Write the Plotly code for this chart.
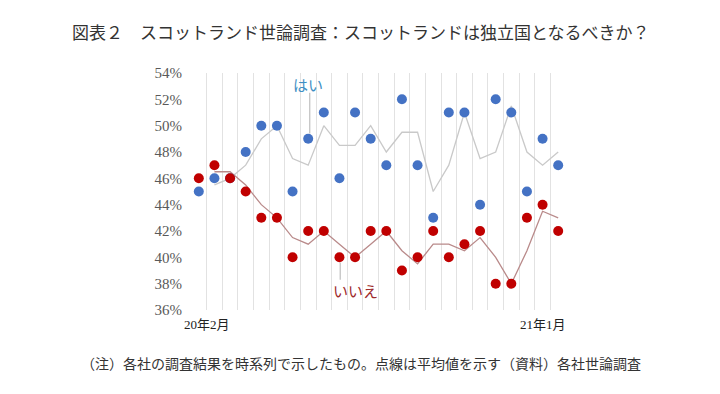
import plotly.graph_objects as go

# survey index (chronological), Feb 2020 .. Jan 2021
idx = list(range(24))
yes_vals = [45, 46, 46, 48, 50, 50, 45, 49, 51, 46, 51, 49, 47, 52, 47, 43, 51, 51, 44, 52, 51, 45, 49, 47]
no_vals = [46, 47, 46, 45, 43, 43, 40, 42, 42, 40, 40, 42, 42, 39, 40, 42, 40, 41, 42, 38, 38, 43, 44, 42]
# average lines (start at second survey)
avg_idx = list(range(1, 24))
yes_avg = [45.5, 46, 47, 49, 50, 47.5, 47, 50, 48.5, 48.5, 50, 48, 49.5, 49.5, 45, 47, 51, 47.5, 48, 51.5, 48, 47, 48]
no_avg = [46.5, 46.5, 45.5, 44, 43, 41.5, 41, 42, 41, 40, 41, 42, 40.5, 39.5, 41, 41, 40.5, 41.5, 40, 38, 40.5, 43.5, 43]
y_ticks = [36, 38, 40, 42, 44, 46, 48, 50, 52, 54]
y_ticktext = [f"{v}%" for v in y_ticks]
x_label_pos = [0, 22]
x_label_text = ["20年2月", "21年1月"]

SERIF = "Liberation Serif, DejaVu Serif, Noto Sans CJK JP"
CJK = "Noto Sans CJK JP"

fig = go.Figure()
fig.add_trace(go.Scatter(x=avg_idx, y=yes_avg, mode="lines",
                         line=dict(color="#C9C9C9", width=1.3), hoverinfo="skip"))
fig.add_trace(go.Scatter(x=avg_idx, y=no_avg, mode="lines",
                         line=dict(color="#B98A8A", width=1.3), hoverinfo="skip"))
fig.add_trace(go.Scatter(x=idx, y=yes_vals, mode="markers",
                         marker=dict(color="#4472C4", size=10)))
fig.add_trace(go.Scatter(x=idx, y=no_vals, mode="markers",
                         marker=dict(color="#C00000", size=10)))

# leader lines for labels
fig.add_shape(type="line", xref="x", yref="y", x0=7.1, x1=7.1, y0=49.4, y1=52.5,
              line=dict(color="#BFBFBF", width=1.2), layer="below")
fig.add_shape(type="line", xref="x", yref="y", x0=9.05, x1=9.05, y0=39.6, y1=38.3,
              line=dict(color="#BFBFBF", width=1.2), layer="below")
fig.add_annotation(x=7, y=53.15, xref="x", yref="y", text="はい", showarrow=False,
                   font=dict(family=CJK, size=15, color="#3F8FC4"))
fig.add_annotation(x=10, y=37.45, xref="x", yref="y", text="いいえ", showarrow=False,
                   font=dict(family=CJK, size=15, color="#9E2A2B"))

for pos, txt, sh in zip(x_label_pos, x_label_text, [8, 0]):
    fig.add_annotation(x=pos, y=-0.02, xref="x", yref="paper", yanchor="top",
                       text=txt, showarrow=False, xshift=sh,
                       font=dict(family=SERIF, size=13, color="#222222"))

fig.add_annotation(x=0.453, y=1.177, xref="paper", yref="paper", xanchor="center",
                   yanchor="middle",
                   text="図表２　スコットランド世論調査：スコットランドは独立国となるべきか？",
                   showarrow=False, font=dict(family=CJK, size=17, color="#333333"))
fig.add_annotation(x=0.453, y=-0.224, xref="paper", yref="paper", xanchor="center",
                   yanchor="middle",
                   text="（注）各社の調査結果を時系列で示したもの。点線は平均値を示す（資料）各社世論調査",
                   showarrow=False, font=dict(family=CJK, size=14, color="#333333"))

fig.update_layout(
    width=712, height=386,
    margin=dict(l=183, r=154, t=65, b=84),
    paper_bgcolor="white", plot_bgcolor="white",
    showlegend=False,
    xaxis=dict(range=[-0.5, 23.5], tickmode="linear", tick0=-0.5, dtick=1,
               showticklabels=False, showgrid=True, gridcolor="#E2E2E2", gridwidth=1,
               zeroline=False, showline=False, ticks=""),
    yaxis=dict(range=[36, 54], tickvals=y_ticks, ticktext=y_ticktext,
               showgrid=False, zeroline=False, showline=False, ticks="",
               ticklabelstandoff=8,
               tickfont=dict(family=SERIF, size=15, color="#595959")),
)
fig.write_html("out.html")
